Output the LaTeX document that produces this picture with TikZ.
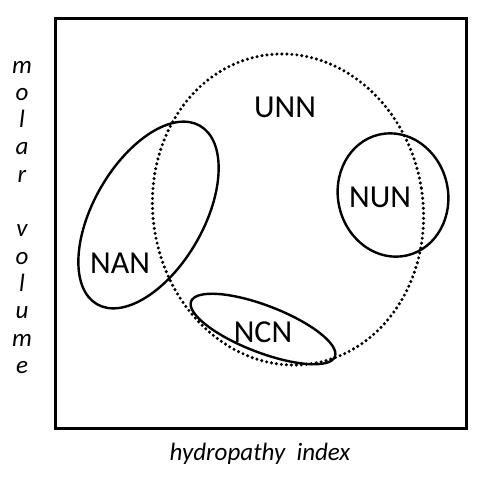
\documentclass[tikz,border=0pt]{standalone}
\usepackage{fontspec}
\setmainfont{Carlito}
\usepackage{tikz}
\usetikzlibrary{positioning}

\tikzset{
  region/.style={line width=2.4pt},
  rlabel/.style={font=\fontsize{32}{38}\selectfont, inner sep=0pt},
  axlabel/.style={font=\fontsize{25}{30}\selectfont\itshape, inner sep=0pt, anchor=base},
}

\begin{document}
\begin{tikzpicture}[x=1pt,y=-1pt]
  \useasboundingbox (0,0) rectangle (484,479);
  % Frame
  \draw[line width=3pt] (55,18) rectangle (466,428);
  % Universal region (dotted)
  \draw[line width=3.4pt, line cap=round, dash pattern=on 0pt off 5pt,
        rotate around={9:(288,209.5)}]
    (288,209.5) ellipse [x radius=135, y radius=156];
  % Sub-regions
  \draw[region, rotate around={60:(148.5,215)}] (148.5,215) ellipse [x radius=103, y radius=55];
  \draw[region, rotate around={13:(393,195)}] (393,195) ellipse [x radius=55, y radius=62];
  \draw[region, rotate around={-21:(263,329)}] (263,329) ellipse [x radius=77, y radius=23.5];
  % Labels
  \node[rlabel] (unn) at (285,107) {UNN};
  \node[rlabel] (nun) at (380,197) {NUN};
  \node[rlabel] (nan) at (120,263) {NAN};
  \node[rlabel] (ncn) at (263,332) {NCN};
  % Axes
  \node[axlabel] (hx) at (260,460) {hydropathy\ \ index};
  \foreach \ch/\i in {m/0,o/1,l/2,a/3,r/4,v/6,o/7,l/8,u/9,m/10,e/11}
    \node[axlabel] (mv\i) at (22,73+27.3*\i) {\ch};
\end{tikzpicture}
\end{document}
